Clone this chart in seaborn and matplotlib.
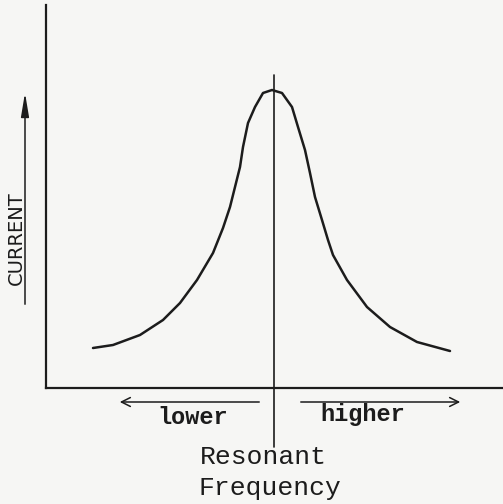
import numpy as np
import pandas as pd
import matplotlib
matplotlib.use('Agg')
import matplotlib.pyplot as plt
import seaborn as sns

# Resonance curve (frequency relative to resonance, current)
frequency = [-1.81, -1.61, -1.34, -1.11, -0.94, -0.77, -0.61, -0.51, -0.44, -0.39,
             -0.34, -0.31, -0.26, -0.19, -0.11, -0.02, 0.08, 0.18, 0.24, 0.31,
             0.36, 0.41, 0.48, 0.54, 0.59, 0.73, 0.93, 1.16, 1.43, 1.76]
current = [0.40, 0.43, 0.53, 0.68, 0.85, 1.08, 1.35, 1.60, 1.81, 2.01,
           2.21, 2.41, 2.65, 2.81, 2.95, 2.98, 2.95, 2.81, 2.61, 2.38,
           2.15, 1.91, 1.68, 1.48, 1.33, 1.08, 0.81, 0.61, 0.46, 0.37]
resonant = 0.0

axis_label = 'CURRENT'
side_labels = ['lower', 'higher']
bottom_labels = ['Resonant', 'Frequency']

df = pd.DataFrame({'frequency': frequency, 'current': current})

ink = '#1c1c1c'
paper = '#f6f6f4'

sns.set_style('white')
fig = plt.figure(figsize=(5.03, 5.04), dpi=100, facecolor=paper)
ax = fig.add_axes([46 / 503, 116 / 504, 457 / 503, 383 / 504], facecolor=paper)

sns.lineplot(data=df, x='frequency', y='current', ax=ax, color=ink,
             linewidth=1.8, estimator=None, sort=False,
             solid_joinstyle='round', solid_capstyle='round')

ax.set_xlim(-2.28, 2.29)
ax.set_ylim(0, 3.83)

# axis lines only on left and bottom
for side in ['top', 'right']:
    ax.spines[side].set_visible(False)
for side in ['left', 'bottom']:
    ax.spines[side].set_color(ink)
    ax.spines[side].set_linewidth(1.6)
ax.set_xticks([])
ax.set_yticks([])
ax.set_xlabel('')
ax.set_ylabel('')

# resonant frequency marker line
ax.plot([resonant, resonant], [-0.59, 3.13], color=ink, linewidth=1.2,
        clip_on=False)

# lower / higher arrows under the axis
arrow = dict(arrowstyle='->', color=ink, lw=1.1, mutation_scale=16)
ax.annotate('', xy=(-1.57, -0.14), xytext=(-0.12, -0.14), arrowprops=arrow,
            annotation_clip=False)
ax.annotate('', xy=(1.89, -0.14), xytext=(0.24, -0.14), arrowprops=arrow,
            annotation_clip=False)

mono = ['Liberation Mono', 'DejaVu Sans Mono']
ax.text(-0.81, -0.30, side_labels[0], ha='center', va='center', fontsize=17,
        family=mono, fontweight='bold', color=ink, clip_on=False)
ax.text(0.89, -0.27, side_labels[1], ha='center', va='center', fontsize=17,
        family=mono, fontweight='bold', color=ink, clip_on=False)
ax.text(-0.11, -0.69, bottom_labels[0], ha='center', va='center', fontsize=19,
        family=mono, color=ink, clip_on=False)
ax.text(-0.04, -1.00, bottom_labels[1], ha='center', va='center', fontsize=19,
        family=mono, color=ink, clip_on=False)

# current arrow with label
up_arrow = dict(arrowstyle='-|>,head_width=0.15,head_length=0.9', color=ink,
                lw=1.1, mutation_scale=16)
ax.annotate('', xy=(-2.49, 2.98), xytext=(-2.49, 0.81), arrowprops=up_arrow,
            annotation_clip=False)
ax.text(-2.58, 1.50, axis_label, rotation=90, ha='center', va='center',
        fontsize=14, family=['DejaVu Sans'], color=ink, clip_on=False)

fig.savefig('out.png', dpi=100, facecolor=paper)
